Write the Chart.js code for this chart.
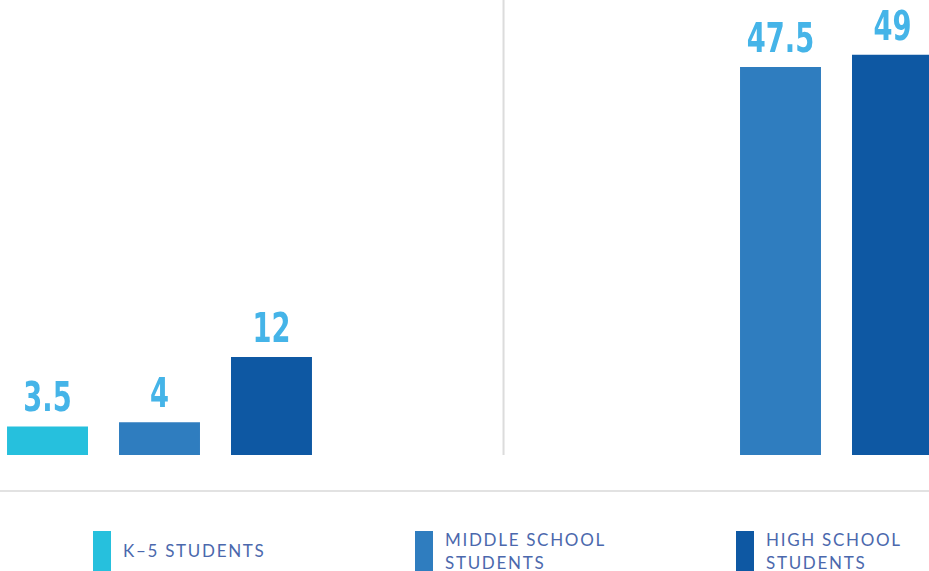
<!DOCTYPE html>
<html>
<head>
<meta charset="utf-8">
<script src="https://cdn.jsdelivr.net/npm/chart.js@4"></script>
<style>
  html, body { margin: 0; padding: 0; background: #fff; }
  body { width: 929px; height: 571px; overflow: hidden; position: relative; }
  #wrap { position: absolute; left: -151px; top: 0; width: 1242px; height: 455px; }
  #rule { position: absolute; left: 0; top: 490px; width: 929px; height: 2px; background: #e2e2e2; }
  .item { position: absolute; top: 531px; height: 40px; }
  .sw { position: absolute; left: 0; top: 0; width: 18px; height: 40px; }
  .txt { position: absolute; left: 30px; font-family: Lato, "Noto Sans", sans-serif; font-size: 17px;
         letter-spacing: 1.7px; color: #4b68ad; line-height: 23px; white-space: nowrap; }
</style>
</head>
<body>
<div id="wrap"><canvas id="c"></canvas></div>
<div id="rule"></div>
<div id="legend"></div>
<script>
// grupos (sin título visible) y series
const groups = ['Group A', 'Group B'];
const seriesNames = ['K–5 STUDENTS', 'MIDDLE SCHOOL STUDENTS', 'HIGH SCHOOL STUDENTS'];
const legendLines = [['K–5 STUDENTS'], ['MIDDLE SCHOOL', 'STUDENTS'], ['HIGH SCHOOL', 'STUDENTS']];
const k5Values = [3.5, null];
const middleValues = [4, 47.5];
const highValues = [12, 49];
const colors = ['#26c0dd', '#2f7dbf', '#0e58a3'];

// etiquetas encima de las barras (fuente condensada, comprimida en x)
const valueLabels = {
    id: 'valueLabels',
    afterDatasetsDraw(chart) {
        const ctx = chart.ctx;
        chart.data.datasets.forEach((ds, i) => {
            const meta = chart.getDatasetMeta(i);
            meta.data.forEach((bar, j) => {
                const v = ds.data[j];
                if (v === null || v === undefined) return;
                ctx.save();
                ctx.translate(bar.x, bar.y - 15);
                ctx.scale(0.74, 1);
                ctx.fillStyle = '#45b4e8';
                ctx.font = 'bold 41px "DejaVu Sans Condensed", "DejaVu Sans", sans-serif';
                ctx.textAlign = 'center';
                ctx.textBaseline = 'alphabetic';
                ctx.fillText(String(v), 0, 0);
                ctx.restore();
            });
        });
    }
};

// línea divisoria entre grupos
const divider = {
    id: 'divider',
    beforeDatasetsDraw(chart) {
        const x0 = chart.scales.x.getPixelForValue(0);
        const x1 = chart.scales.x.getPixelForValue(1);
        const x = x0 + (x1 - x0) * 0.554;
        const ctx = chart.ctx;
        ctx.save();
        ctx.strokeStyle = '#dcdcdc';
        ctx.lineWidth = 2;
        ctx.beginPath();
        ctx.moveTo(x, 0);
        ctx.lineTo(x, chart.chartArea.bottom);
        ctx.stroke();
        ctx.restore();
    }
};

new Chart(document.getElementById('c'), {
    type: 'bar',
    data: {
        labels: groups,
        datasets: [
            { label: seriesNames[0], data: k5Values, backgroundColor: colors[0] },
            { label: seriesNames[1], data: middleValues, backgroundColor: colors[1] },
            { label: seriesNames[2], data: highValues, backgroundColor: colors[2] }
        ]
    },
    options: {
        responsive: true,
        maintainAspectRatio: false,
        animation: false,
        layout: { padding: 0 },
        datasets: { bar: { categoryPercentage: 0.541, barPercentage: 0.723, skipNull: false } },
        plugins: { legend: { display: false }, tooltip: { enabled: false } },
        scales: {
            x: { display: false },
            y: { display: false, min: 0, max: 55.7 }
        }
    },
    plugins: [divider, valueLabels]
});

// leyenda en HTML
const legendX = [93, 415, 736];
const legend = document.getElementById('legend');
legendLines.forEach((lines, i) => {
    const item = document.createElement('div');
    item.className = 'item';
    item.style.left = legendX[i] + 'px';
    const sw = document.createElement('div');
    sw.className = 'sw';
    sw.style.background = colors[i];
    const txt = document.createElement('div');
    txt.className = 'txt';
    txt.style.top = lines.length === 1 ? '8px' : '-3px';
    txt.innerHTML = lines.join('<br>');
    item.appendChild(sw);
    item.appendChild(txt);
    legend.appendChild(item);
});
</script>
</body>
</html>
